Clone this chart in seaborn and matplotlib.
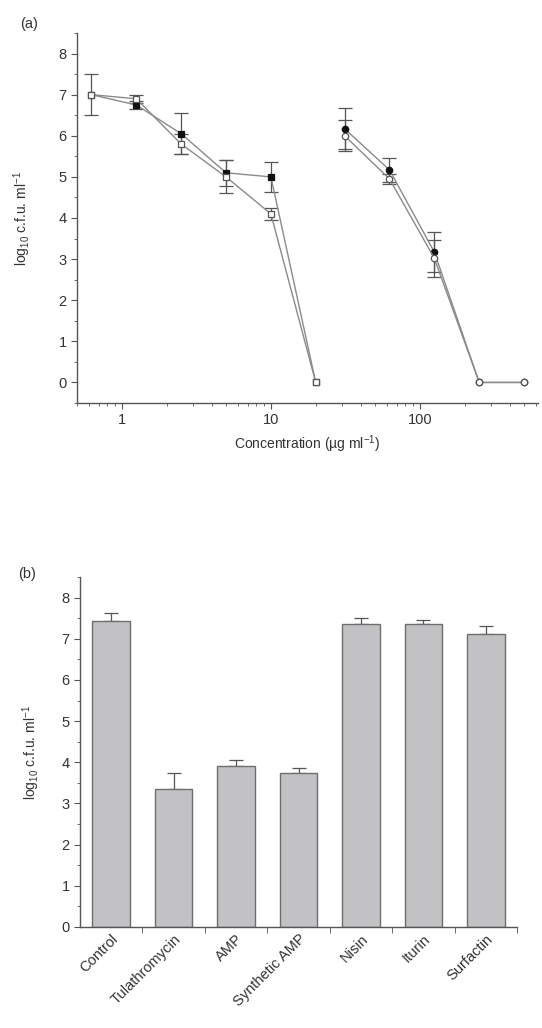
import numpy as np
import pandas as pd
import matplotlib
matplotlib.use("Agg")
import matplotlib.pyplot as plt
import seaborn as sns
from matplotlib.ticker import MultipleLocator, LogLocator, NullFormatter, FixedLocator

# ---------------- data: panel (a) ----------------
conc_low = [0.625, 1.25, 2.5, 5, 10, 20]
filled_low = [7.0, 6.75, 6.05, 5.1, 5.0, 0.0]
filled_low_err = [0.0, 0.1, 0.5, 0.32, 0.36, 0.0]
open_low = [7.0, 6.9, 5.8, 5.0, 4.1, 0.0]
open_low_err = [0.5, 0.1, 0.25, 0.4, 0.15, 0.0]

conc_high = [31.25, 62.5, 125, 250, 500]
filled_high = [6.17, 5.17, 3.17, 0.0, 0.0]
filled_high_err = [0.5, 0.3, 0.48, 0.0, 0.0]
open_high = [6.0, 4.95, 3.02, 0.0, 0.0]
open_high_err = [0.38, 0.12, 0.45, 0.0, 0.0]

# ---------------- data: panel (b) ----------------
treatments = ["Control", "Tulathromycin", "AMP", "Synthetic AMP", "Nisin", "Iturin", "Surfactin"]
log_cfu = [7.44, 3.36, 3.9, 3.73, 7.37, 7.36, 7.12]
log_cfu_err = [0.18, 0.38, 0.15, 0.14, 0.14, 0.1, 0.18]

sns.set_style("ticks")
plt.rcParams["font.family"] = ["Liberation Sans", "DejaVu Sans"]
plt.rcParams["mathtext.fontset"] = "custom"
plt.rcParams["mathtext.rm"] = "Liberation Sans"
plt.rcParams["mathtext.it"] = "Liberation Sans"

txt = "#333333"
spine = "#555555"
line_c = "#8a8a8a"
plt.rcParams.update({
    "axes.edgecolor": spine, "xtick.color": spine, "ytick.color": spine,
    "xtick.labelcolor": txt, "ytick.labelcolor": txt, "axes.labelcolor": txt,
    "axes.linewidth": 1.0, "xtick.major.size": 4, "ytick.major.size": 4,
    "xtick.minor.size": 2.5, "ytick.minor.size": 2.5,
})

fig = plt.figure(figsize=(5.42, 10.28), dpi=100)
W, H = 542, 1028
axa = fig.add_axes([77 / W, 1 - 403 / H, (538 - 77) / W, (403 - 33) / H])
axb = fig.add_axes([80 / W, 1 - 927 / H, (517 - 80) / W, (927 - 577) / H])

# ---- panel (a) ----
def draw_series(ax, x, y, err, filled, marker):
    df = pd.DataFrame({"x": x, "y": y})
    sns.lineplot(data=df, x="x", y="y", ax=ax, color=line_c, lw=1.0,
                 marker=marker, markersize=4.6 if marker == "s" else 4.6,
                 markerfacecolor="#111111" if filled else "white",
                 markeredgecolor="#111111" if filled else "#555555",
                 markeredgewidth=0.9, zorder=4 if not filled else 3)
    e = np.array(err)
    m = e > 0
    ax.errorbar(np.array(x)[m], np.array(y)[m], yerr=e[m], fmt="none",
                ecolor="#555555", elinewidth=0.9, capsize=5, capthick=0.9, zorder=2)

draw_series(axa, conc_low, filled_low, filled_low_err, True, "s")
draw_series(axa, conc_low, open_low, open_low_err, False, "s")
draw_series(axa, conc_high, filled_high, filled_high_err, True, "o")
draw_series(axa, conc_high, open_high, open_high_err, False, "o")

axa.set_xscale("log")
axa.set_xlim(0.5, 620)
axa.set_ylim(-0.5, 8.5)
axa.xaxis.set_major_locator(FixedLocator([1, 10, 100]))
axa.set_xticklabels(["1", "10", "100"])
axa.xaxis.set_minor_locator(LogLocator(base=10, subs=np.arange(2, 10), numticks=20))
axa.xaxis.set_minor_formatter(NullFormatter())
axa.yaxis.set_major_locator(MultipleLocator(1))
axa.yaxis.set_minor_locator(MultipleLocator(0.5))
axa.tick_params(labelsize=10.5)
axa.set_xlabel("Concentration (\u00b5g ml$^{-1}$)", fontsize=10, labelpad=4)
axa.set_ylabel("log$_{10}$ c.f.u. ml$^{-1}$", fontsize=10, labelpad=18)
sns.despine(ax=axa)
fig.text(20 / W, 1 - 24 / H, "(a)", fontsize=10.5, color=txt, ha="left", va="center")

# ---- panel (b) ----
dfb = pd.DataFrame({"treatment": treatments, "value": log_cfu})
sns.barplot(data=dfb, x="treatment", y="value", ax=axb, color="#c2c2c4",
            width=0.6, edgecolor="#6e6e6e", linewidth=1.0, saturation=1)
xs = np.arange(len(treatments))
axb.errorbar(xs, log_cfu, yerr=[np.zeros(len(log_cfu)), log_cfu_err], fmt="none",
             ecolor="#555555", elinewidth=0.9, capsize=5, capthick=0.9, zorder=0.5)
axb.set_xlim(-0.5, len(treatments) - 0.5)
axb.set_ylim(0, 8.5)
axb.yaxis.set_major_locator(MultipleLocator(1))
axb.yaxis.set_minor_locator(MultipleLocator(0.5))
axb.xaxis.set_minor_locator(FixedLocator(np.arange(0.5, len(treatments), 1.0)))
axb.tick_params(axis="x", which="major", length=0)
axb.tick_params(axis="x", which="minor", length=4)
axb.tick_params(labelsize=10.5)
axb.set_xticks(xs)
axb.set_xticklabels(treatments, rotation=45, ha="right", rotation_mode="anchor", fontsize=10.5)
axb.set_xlabel("")
axb.set_ylabel("log$_{10}$ c.f.u. ml$^{-1}$", fontsize=10, labelpad=14)
sns.despine(ax=axb)
fig.text(18 / W, 1 - 574 / H, "(b)", fontsize=10.5, color=txt, ha="left", va="center")

fig.savefig("out.png", dpi=100)
